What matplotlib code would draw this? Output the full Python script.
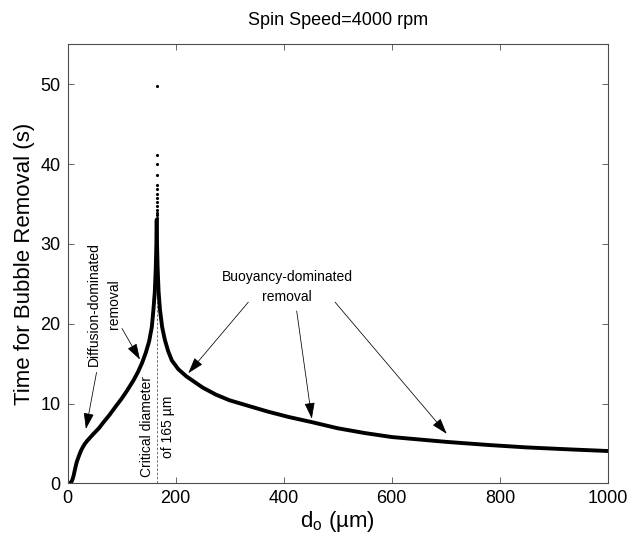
import matplotlib.pyplot as plt

plt.rcParams['font.family'] = ['Liberation Sans', 'DejaVu Sans']
plt.rcParams['mathtext.fontset'] = 'custom'
plt.rcParams['mathtext.rm'] = 'Liberation Sans'

# diffusion-dominated branch (left of the critical diameter)
d_left = [0, 4, 7, 9, 11, 13, 15, 17, 19, 22, 25, 28, 32, 36, 40, 48, 58, 66,
          78, 91, 100, 110, 122, 130, 138, 145, 151, 156, 159, 161.5, 163.3,
          164.4, 164.9]
t_left = [0, 0.03, 0.15, 0.45, 0.9, 1.5, 2.1, 2.65, 3.05, 3.6, 4.1, 4.5, 4.95,
          5.3, 5.6, 6.2, 6.9, 7.6, 8.6, 9.8, 10.6, 11.6, 12.9, 13.9, 15.1,
          16.4, 17.8, 19.6, 21.8, 24.0, 27.0, 30.0, 33.0]

# buoyancy-dominated branch (right of the critical diameter)
d_right = [165.1, 165.6, 166.7, 168.5, 171, 175, 180, 186, 193, 205, 220, 235,
           250, 275, 300, 335, 370, 410, 450, 500, 550, 600, 650, 700, 780,
           850, 930, 1000]
t_right = [33.0, 30.0, 27.0, 24.0, 21.8, 19.6, 18.0, 16.6, 15.4, 14.3, 13.4,
           12.7, 12.0, 11.1, 10.4, 9.7, 9.0, 8.3, 7.7, 6.9, 6.3, 5.8, 5.5, 5.2,
           4.8, 4.5, 4.25, 4.05]

# scattered points near the singularity at d = 165 um
d_crit = 165
t_peak = [33.3, 33.6, 33.9, 34.2, 34.7, 35.2, 35.8, 36.3, 36.9, 37.4, 38.6,
          40.0, 41.1, 49.8]

fig = plt.figure(figsize=(6.34, 5.44), dpi=100)
ax = fig.add_axes([0.1065, 0.1115, 0.8525, 0.807])

ax.plot([d_crit, d_crit], [0, 30], '--', color='0.35', lw=0.6, dashes=(3, 2))
ax.plot(d_left, t_left, '-', color='black', lw=2.8, solid_capstyle='round')
ax.plot(d_right, t_right, '-', color='black', lw=2.8, solid_capstyle='round')
ax.plot([d_crit] * len(t_peak), t_peak, 'k.', ms=2.5)

ax.set_xlim(0, 1000)
ax.set_ylim(0, 55)
ax.set_xticks(range(0, 1001, 200))
ax.set_yticks(range(0, 51, 10))
ax.tick_params(direction='in', length=4, width=0.6, color='0.3',
               labelsize=13, top=True, right=True, pad=5)
for s in ax.spines.values():
    s.set_color('0.3')
    s.set_linewidth(0.8)

ax.set_xlabel(r'd$_\mathregular{o}$ (µm)', fontsize=16, labelpad=1)
ax.set_ylabel('Time for Bubble Removal (s)', fontsize=16, labelpad=4)
ax.set_title('Spin Speed=4000 rpm', fontsize=13, pad=14)

arrow = dict(arrowstyle='-|>,head_length=0.5,head_width=0.16', color='black',
             lw=0.55, shrinkA=0, shrinkB=0, mutation_scale=20)

ax.text(67.5, 22.4, 'Diffusion-dominated\nremoval', rotation=90, fontsize=10,
        ha='center', va='center', multialignment='center', linespacing=1.55)
ax.annotate('', xy=(34, 6.8), xytext=(53.7, 13.9), arrowprops=arrow)
ax.annotate('', xy=(134, 15.5), xytext=(100.8, 19.4), arrowprops=arrow)

ax.text(166.5, 7.1, 'Critical diameter\nof 165 µm', rotation=90, fontsize=10,
        ha='center', va='center', multialignment='center', linespacing=1.55)

ax.text(406, 24.6, 'Buoyancy-dominated\nremoval', fontsize=10,
        ha='center', va='center', multialignment='center', linespacing=1.55)
ax.annotate('', xy=(223.5, 13.8), xytext=(334.5, 22.7), arrowprops=arrow)
ax.annotate('', xy=(452, 8.1), xytext=(424, 21.6), arrowprops=arrow)
ax.annotate('', xy=(701.6, 6.2), xytext=(495, 22.7), arrowprops=arrow)

fig.savefig('out.png', dpi=100)
